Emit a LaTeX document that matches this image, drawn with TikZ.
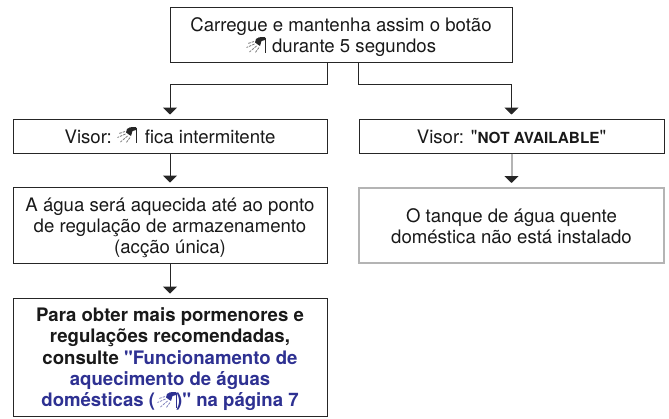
\documentclass[tikz,border=0pt]{standalone}
\usepackage{fontspec}
\setmainfont{TeX Gyre Heros}[Ligatures=TeXOff]
\usetikzlibrary{arrows.meta}
\definecolor{linkblue}{HTML}{2E3192}
\definecolor{boxgray}{HTML}{B4B4B4}
\newcommand{\topstrut}[1]{\rule{0pt}{#1pt}}
\tikzset{
  flowbox/.style={draw=black!85,line width=1pt,align=center,inner sep=0pt,font=\fontsize{18.6}{21.2}\selectfont,text=black!90},
  graybox/.style={flowbox,draw=boxgray,line width=2pt},
  flow/.style={draw=black!85,line width=1pt,shorten >=4pt,-{Triangle[width=14pt,length=7pt,black!85]}},
  grayflow/.style={flow,draw=boxgray,line width=2pt},
  showericon/.pic={
    \fill[pic actions] (10,2) -- (13,0.3) -- (19,0) -- (19,3) -- (15.5,4) -- (14,9) -- (9,5.5) -- cycle;
    \draw[pic actions,line width=1.3pt,fill=none] (19.8,0.5) -- (19.8,15.5);
    \draw[pic actions,line width=.8pt,fill=none,opacity=.6,dash pattern=on 2.5pt off 1pt]
      (8,4.5) -- (2,6.5) (8.5,7) -- (0.5,10.5) (10.5,9) -- (3.5,15) (13,10.5) -- (9,16);
  }
}
\begin{document}
\begin{tikzpicture}[x=1pt,y=-1pt]
\useasboundingbox (0,0) rectangle (669,418);
\node[flowbox,minimum width=342pt,minimum height=55pt] (start) at (341,34.5)
  {\topstrut{18.5}Carregue e mantenha assim o botão\\\hspace*{21pt} durante 5 segundos};
\node[flowbox,minimum width=314pt,minimum height=34pt] (visorl) at (170,136)
  {\topstrut{15}Visor: \hspace*{21pt} fica intermitente};
\node[flowbox,minimum width=305pt,minimum height=34pt] (visorr) at (511.5,136)
  {\topstrut{15}Visor: "{\bfseries\fontsize{15.3}{18}\selectfont NOT AVAILABLE}"};
\node[flowbox,minimum width=314pt,minimum height=76pt] (heat) at (170,225)
  {\topstrut{19.5}A água será aquecida até ao ponto\\de regulação de armazenamento\\(acção única)};
\node[graybox,minimum width=305pt,minimum height=75pt] (tank) at (511.5,225.5)
  {\topstrut{15.5}O tanque de água quente\\doméstica não está instalado};
\node[flowbox,minimum width=314pt,minimum height=118pt,font=\fontsize{18.6}{21.3}\selectfont\bfseries] (more) at (170,357)
  {\topstrut{18.5}Para obter mais pormenores e\\regulações recomendadas,\\consulte \textcolor{linkblue}{"Funcionamento de}\\\textcolor{linkblue}{aquecimento de águas}\\\textcolor{linkblue}{domésticas (\hspace*{21pt})" na página 7}};
\draw[flow] (start.south -| visorl.east) -- ++(0,22) -| (visorl.north);
\draw[flow] (start.south -| visorr.west) -- ++(0,22) -| (visorr.north);
\draw[flow] (visorl) -- (heat);
\draw[flow] (heat) -- (more);
\draw[grayflow] (visorr) -- (tank);
\pic[black!85] at (246,37) {showericon};
\pic[black!85] at (117,127) {showericon};
\pic[linkblue] at (157,392) {showericon};
\end{tikzpicture}
\end{document}
